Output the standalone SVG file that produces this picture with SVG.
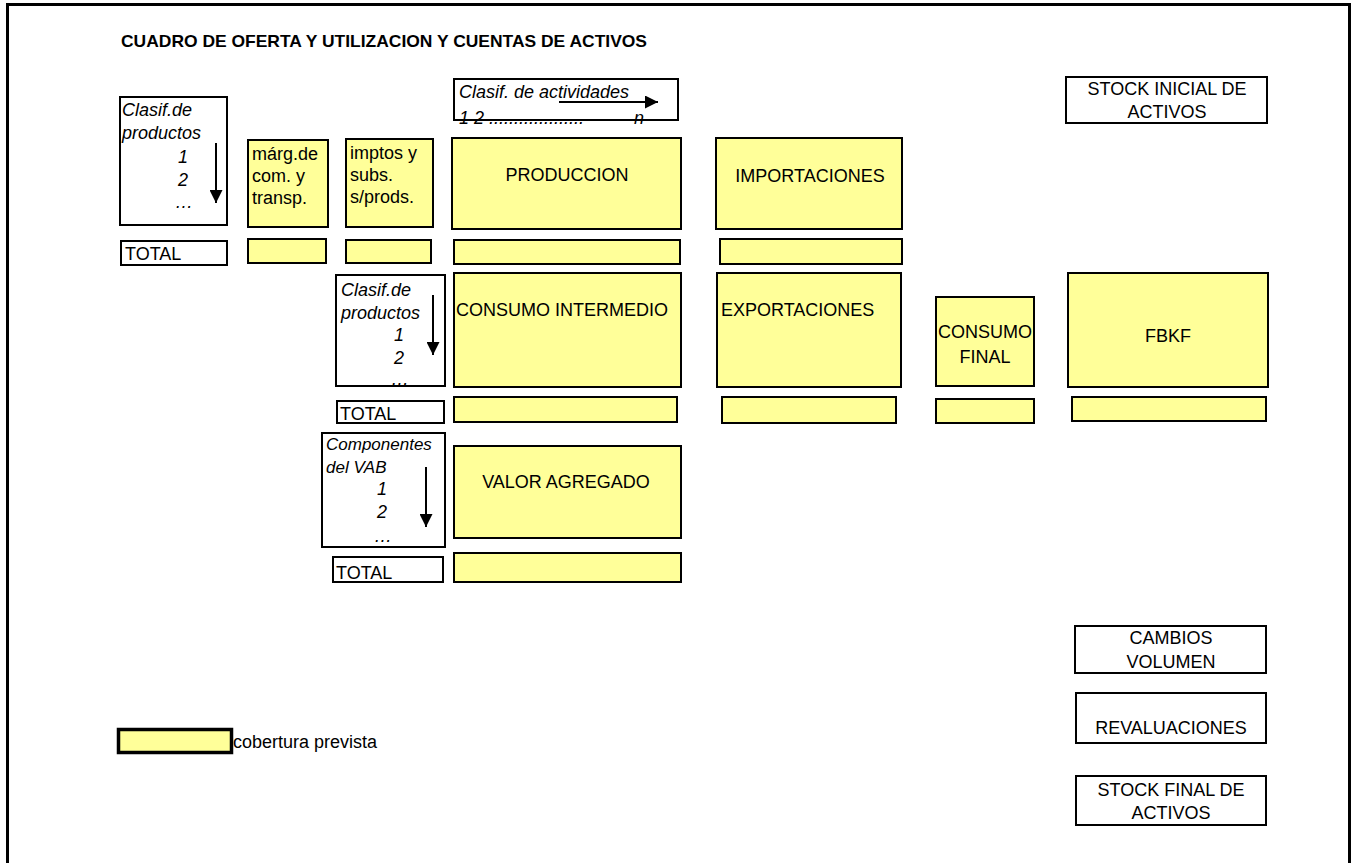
<svg xmlns="http://www.w3.org/2000/svg" width="1359" height="863" viewBox="0 0 1359 863">
<style>
.b{fill:#fff;stroke:#000;stroke-width:2}
.y{fill:#ffff99;stroke:#000;stroke-width:2}
text{font-family:"Liberation Sans",Arial,sans-serif;font-size:18px;fill:#000}
.i{font-style:italic}
.c{text-anchor:middle}
.t{font-weight:bold;font-size:17px}
.a{stroke:#000;stroke-width:2;fill:none}
</style>
<defs>
<marker id="ah" viewBox="0 0 13 13" refX="13" refY="6.5" markerWidth="13" markerHeight="13" markerUnits="userSpaceOnUse" orient="auto">
<path d="M0,0 L13,6.5 L0,13 Z" fill="#000"/>
</marker>
</defs>
<rect x="7.5" y="4.5" width="1342" height="880" fill="#fff" stroke="#000" stroke-width="3"/>
<text id="title" class="t" x="121" y="47" textLength="526" lengthAdjust="spacingAndGlyphs">CUADRO DE OFERTA Y UTILIZACION Y CUENTAS DE ACTIVOS</text>

<g id="clasif-productos-1">
<rect class="b" x="120" y="97" width="107" height="128"/>
<text class="i" x="122" y="116">Clasif.de</text>
<text class="i" x="122" y="139">productos</text>
<text class="i" x="178" y="163">1</text>
<text class="i" x="178" y="186">2</text>
<text class="i" x="175" y="208">…</text>
</g>
<g id="total-1"><rect class="b" x="121" y="241" width="106" height="24"/><text x="125" y="260">TOTAL</text></g>
<g id="margenes"><rect class="y" x="248" y="140" width="80" height="87"/>
<text x="252" y="160">márg.de</text><text x="252" y="182">com. y</text><text x="252" y="204">transp.</text></g>
<g id="margenes-total"><rect class="y" x="248" y="239" width="78" height="24"/></g>
<g id="impuestos"><rect class="y" x="346" y="139" width="87" height="88"/>
<text x="350" y="159">imptos y</text><text x="350" y="181">subs.</text><text x="350" y="203">s/prods.</text></g>
<g id="impuestos-total"><rect class="y" x="346" y="240" width="85" height="23"/></g>

<g id="clasif-actividades"><rect class="b" x="454" y="79" width="224" height="41"/>
<text class="i" x="459" y="98">Clasif. de actividades</text>
<text class="i" x="459" y="124">1  2 ...................</text>
<text class="i" x="634" y="124">n</text></g>
<g id="produccion"><rect class="y" x="452" y="138" width="229" height="91"/><text class="c" x="567" y="181">PRODUCCION</text></g>
<g id="produccion-total"><rect class="y" x="454" y="240" width="226" height="24"/></g>
<g id="importaciones"><rect class="y" x="716" y="138" width="186" height="91"/><text class="c" x="810" y="182">IMPORTACIONES</text></g>
<g id="importaciones-total"><rect class="y" x="720" y="239" width="182" height="25"/></g>
<g id="stock-inicial"><rect class="b" x="1066" y="77" width="201" height="46"/>
<text class="c" x="1167" y="95">STOCK INICIAL DE</text><text class="c" x="1167" y="118">ACTIVOS</text></g>

<g id="clasif-productos-2"><rect class="b" x="336" y="275" width="109" height="111"/>
<text class="i" x="341" y="296">Clasif.de</text>
<text class="i" x="341" y="319">productos</text>
<text class="i" x="394" y="341">1</text>
<text class="i" x="394" y="364">2</text>
<text class="i" x="391" y="385">…</text></g>
<g id="total-2"><rect class="b" x="337" y="401" width="107" height="22"/><text x="340" y="420">TOTAL</text></g>
<g id="consumo-intermedio"><rect class="y" x="454" y="273" width="227" height="114"/><text x="456" y="316">CONSUMO INTERMEDIO</text></g>
<g id="consumo-intermedio-total"><rect class="y" x="454" y="397" width="223" height="25"/></g>
<g id="exportaciones"><rect class="y" x="717" y="273" width="184" height="114"/><text x="721" y="316">EXPORTACIONES</text></g>
<g id="exportaciones-total"><rect class="y" x="722" y="397" width="174" height="26"/></g>
<g id="consumo-final"><rect class="y" x="936" y="297" width="98" height="89"/>
<text class="c" x="985" y="338">CONSUMO</text><text class="c" x="985" y="363">FINAL</text></g>
<g id="consumo-final-total"><rect class="y" x="936" y="399" width="98" height="24"/></g>
<g id="fbkf"><rect class="y" x="1068" y="273" width="200" height="114"/><text class="c" x="1168" y="342">FBKF</text></g>
<g id="fbkf-total"><rect class="y" x="1072" y="397" width="194" height="24"/></g>

<g id="componentes-vab"><rect class="b" x="322" y="433" width="123" height="114"/>
<text class="i" x="326" y="450" style="font-size:17px">Componentes</text>
<text class="i" x="326" y="473" style="font-size:17px">del VAB</text>
<text class="i" x="377" y="495">1</text>
<text class="i" x="377" y="518">2</text>
<text class="i" x="374" y="542">…</text></g>
<g id="total-3"><rect class="b" x="333" y="557" width="110" height="25"/><text x="336" y="579">TOTAL</text></g>
<g id="valor-agregado"><rect class="y" x="454" y="446" width="227" height="92"/><text class="c" x="566" y="488">VALOR AGREGADO</text></g>
<g id="valor-agregado-total"><rect class="y" x="454" y="553" width="227" height="29"/></g>

<g id="cambios-volumen"><rect class="b" x="1075" y="626" width="191" height="47"/>
<text class="c" x="1171" y="644">CAMBIOS</text><text class="c" x="1171" y="668">VOLUMEN</text></g>
<g id="revaluaciones"><rect class="b" x="1076" y="693" width="190" height="50"/><text class="c" x="1171" y="734">REVALUACIONES</text></g>
<g id="stock-final"><rect class="b" x="1076" y="776" width="190" height="49"/>
<text class="c" x="1171" y="796">STOCK FINAL DE</text><text class="c" x="1171" y="819">ACTIVOS</text></g>

<g id="legend"><rect x="118.5" y="729.5" width="113" height="23" fill="#ffff99" stroke="#000" stroke-width="3.5"/>
<text x="233" y="748">cobertura prevista</text></g>

<g id="connectors">
<line class="a" x1="216" y1="143" x2="216" y2="203" marker-end="url(#ah)"/>
<line class="a" x1="559" y1="102" x2="658" y2="102" marker-end="url(#ah)"/>
<line class="a" x1="433" y1="295" x2="433" y2="355" marker-end="url(#ah)"/>
<line class="a" x1="426" y1="467" x2="426" y2="527" marker-end="url(#ah)"/>
</g>
</svg>
